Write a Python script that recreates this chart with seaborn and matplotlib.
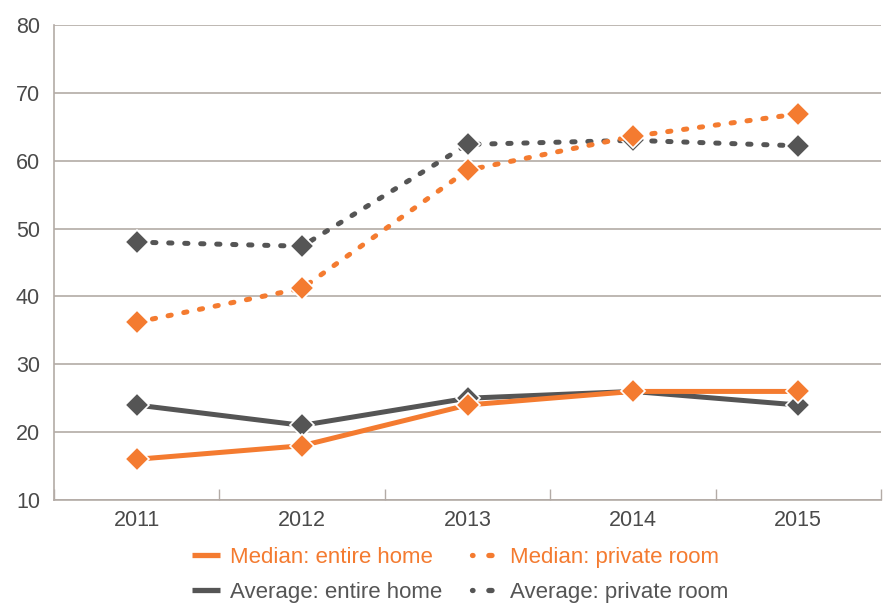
import numpy as np
import pandas as pd
import matplotlib
matplotlib.use("Agg")
import matplotlib.pyplot as plt
from matplotlib.lines import Line2D
import seaborn as sns

# values
years = [2011, 2012, 2013, 2014, 2015]
median_entire = [16, 18, 24, 26, 26]
average_entire = [24, 21, 25, 26, 24]
median_private = [36.2, 41.2, 58.6, 63.6, 66.9]
average_private = [48, 47.4, 62.4, 63, 62.2]
series_names = ["Average: entire home", "Average: private room",
                "Median: entire home", "Median: private room"]

orange = "#F47B30"
grey = "#555555"
gridc = "#B3ABA6"

sns.set_theme(style="white")
plt.rcParams['font.family'] = ['Arial', 'Liberation Sans', 'DejaVu Sans']

fig = plt.figure(figsize=(8.86, 6.03), dpi=100)
ax = fig.add_axes([54/886, 1 - 500/603, (881-54)/886, (500-25)/603])

values = {
    "Average: entire home": average_entire,
    "Average: private room": average_private,
    "Median: entire home": median_entire,
    "Median: private room": median_private,
}
colors = {n: (orange if n.startswith("Median") else grey) for n in series_names}
dotted = (0, (0.65, 2.55))

for name in series_names:
    df = pd.DataFrame({"year": years, "value": values[name]})
    ls = dotted if "private" in name else "-"
    sns.lineplot(data=df, x="year", y="value", ax=ax, color=colors[name],
                 linewidth=3.6, linestyle=ls, marker="D", markersize=12,
                 markeredgecolor="white", markeredgewidth=1.2,
                 dash_capstyle="round", solid_capstyle="butt", sort=False,
                 legend=False)

ax.set_xlim(2010.5, 2015.5)
ax.set_ylim(10, 80)
ax.set_yticks(range(10, 81, 10))
ax.set_xticks(years)
ax.set_xticks(np.arange(2010.5, 2015.6, 1), minor=True)
ax.yaxis.grid(True, color=gridc, linewidth=1.2)
ax.xaxis.grid(False)
ax.set_xlabel("")
ax.set_ylabel("")
for s in ["top", "right"]:
    ax.spines[s].set_visible(False)
for s in ["left", "bottom"]:
    ax.spines[s].set_color(gridc)
    ax.spines[s].set_linewidth(1.2)
ax.tick_params(axis="x", which="major", length=0, pad=7, labelsize=15.5, labelcolor="#4a4a4a")
ax.tick_params(axis="x", which="minor", direction="in", length=8, width=1.0, color=gridc, bottom=True)
ax.tick_params(axis="y", which="major", length=0, pad=10, labelsize=15.5, labelcolor="#4a4a4a")

legend_dots = (0.5, (0.6, 3.0))
handles = [
    Line2D([], [], color=orange, linewidth=3.8, solid_capstyle="butt"),
    Line2D([], [], color=grey, linewidth=3.8, solid_capstyle="butt"),
    Line2D([], [], color=orange, linewidth=3.8, linestyle=legend_dots, dash_capstyle="round"),
    Line2D([], [], color=grey, linewidth=3.8, linestyle=legend_dots, dash_capstyle="round"),
]
labels = ["Median: entire home", "Average: entire home",
          "Median: private room", "Average: private room"]
leg = fig.legend(handles, labels, ncol=2, loc="upper left",
                 bbox_to_anchor=(181/886, 1 - 536/603), frameon=False,
                 fontsize=16, handlelength=1.25, handletextpad=0.45,
                 columnspacing=1.35, labelspacing=0.62, borderpad=0)
for t, c in zip(leg.get_texts(), [orange, grey, orange, grey]):
    t.set_color(c)

fig.savefig("out.png", dpi=100)
